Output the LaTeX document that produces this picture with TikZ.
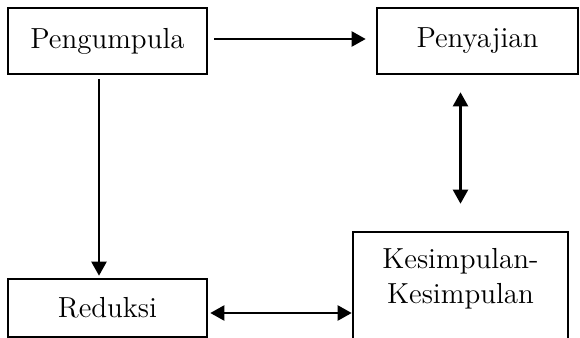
\documentclass[tikz,border=0pt]{standalone}
\usepackage{tikz}
\usetikzlibrary{arrows.meta}

\begin{document}
\begin{tikzpicture}[
stage/.style={
    rectangle,
    draw,
    line width=1.3pt,
    inner sep=0pt,
    align=center,
    font=\fontsize{14.5}{17.5}\selectfont
},
arr/.style={-{Triangle[length=7pt,width=7.5pt]}, line width=1.1pt},
dbl/.style={{Triangle[length=7pt,width=7.5pt]}-{Triangle[length=7pt,width=7.5pt]}, line width=1.1pt}
]
\useasboundingbox (0pt,0pt) rectangle (290pt,-169pt);
\node[stage, minimum width=99.5pt, minimum height=33pt] (peng) at (53.75pt,-20.5pt) {Pengumpula};
\node[stage, minimum width=100.5pt, minimum height=33pt] (peny) at (238.75pt,-20.5pt) {Penyajian};
\node[stage, minimum width=99.5pt, minimum height=29pt] (red) at (53.75pt,-154pt) {Reduksi};
\node[stage, minimum width=107.5pt, minimum height=57pt, text depth=13pt] (kes) at (230.25pt,-144.5pt) {Kesimpulan-\\Kesimpulan};

\draw[arr, shorten <=3pt, shorten >=5pt] ([yshift=1pt]peng.east) -- ([yshift=1pt]peny.west);
\draw[arr, shorten <=2pt, shorten >=1pt] ([xshift=-4.25pt]peng.south) -- ([xshift=-4.25pt]red.north);
\draw[dbl, shorten <=8.5pt, shorten >=13.5pt] (peny.south -| kes.north) -- (kes.north);
\draw[dbl, shorten <=1pt] ([yshift=-2.5pt]red.east) -- ([yshift=-2.5pt]red.east -| kes.west);
\end{tikzpicture}
\end{document}
